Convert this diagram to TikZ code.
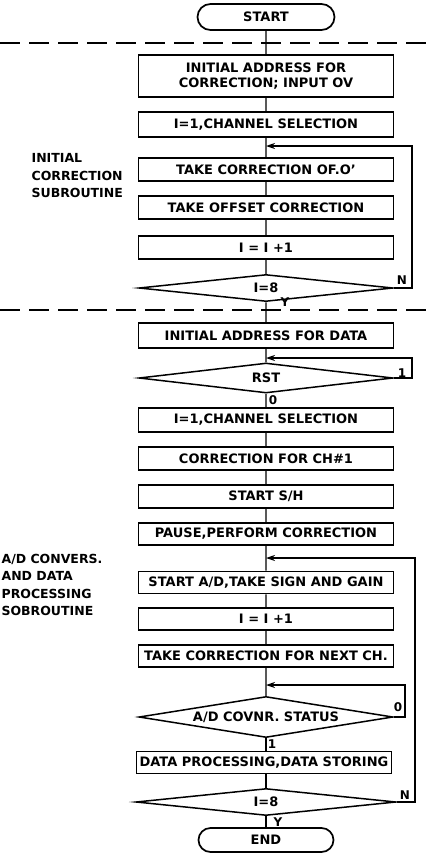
\documentclass[tikz,border=0pt]{standalone}
\usepackage{fontspec}
\setmainfont{DejaVu Sans}
\usetikzlibrary{arrows.meta, positioning, shapes.geometric, shapes.misc}
\tikzset{
  flownode/.style = {align=center, inner sep=0pt, text centered,
    font=\bfseries\fontsize{13}{15}\selectfont},
  blk/.style = {flownode, rectangle, draw=black, line width=1.7pt,
    minimum width=255pt, minimum height=23pt},
  test/.style = {flownode, diamond, draw=black, line width=1.5pt,
    minimum width=254pt, minimum height=27pt, aspect=9},
  term/.style = {flownode, rounded rectangle, draw=black, line width=1.7pt,
    minimum width=137pt, minimum height=26pt},
  side/.style = {align=left, inner sep=0pt, anchor=west,
    font=\bfseries\fontsize{12.5}{17.5}\selectfont},
  lbl/.style = {inner sep=0pt, font=\bfseries\fontsize{12}{14}\selectfont},
  sep/.style = {dash pattern=on 20pt off 9pt, line width=1.2pt}
}
\begin{document}
\begin{tikzpicture}[x=1pt, y=-1pt, >={Stealth[length=9pt,width=6pt]}, line width=1.2pt]
\useasboundingbox (0,0) rectangle (428,854);
\node [term] (start) at (266,17) {START};
\node [blk, minimum height=42pt] (b1) at (266,76) {INITIAL ADDRESS FOR\\CORRECTION; INPUT OV};
\node [blk, minimum height=25pt] (b2) at (266,124.5) {I=1,CHANNEL SELECTION};
\node [blk] (b3) at (266,169.5) {TAKE CORRECTION OF.O'};
\node [blk] (b4) at (266,207.5) {TAKE OFFSET CORRECTION};
\node [blk] (b5) at (266,247.5) {I = I +1};
\node [test] (d1) at (266,288) {I=8};
\node [blk, minimum height=25pt] (b6) at (266,335.5) {INITIAL ADDRESS FOR DATA};
\node [test, minimum height=30pt] (d2) at (266,378) {RST};
\node [blk, minimum height=24pt] (b7) at (266,420) {I=1,CHANNEL SELECTION};
\node [blk] (b8) at (266,458.5) {CORRECTION FOR CH\#1};
\node [blk] (b9) at (266,496.5) {START S/H};
\node [blk, minimum height=22pt] (b10) at (266,534) {PAUSE,PERFORM CORRECTION};
\node [blk, minimum height=22pt] (b11) at (266,582.5) {START A/D,TAKE SIGN AND GAIN};
\node [blk, minimum height=22pt] (b12) at (266,619) {I = I +1};
\node [blk, minimum height=22pt] (b13) at (266,656) {TAKE CORRECTION FOR NEXT CH.};
\node [test, minimum height=41pt] (d3) at (266,717) {A/D COVNR. STATUS};
\node [blk, minimum height=22pt] (b14) at (264,762.5) {DATA PROCESSING,DATA STORING};
\node [test, minimum height=27pt, minimum width=260pt] (d4) at (266,802) {I=8};
\node [term, minimum width=135pt, minimum height=24pt] (stop) at (266,840) {END};

\node [side] (initcorr) at (31,176) {INITIAL\\CORRECTION\\SUBROUTINE};
\node [side] (adproc) at (1,585) {A/D CONVERS.\\AND DATA\\PROCESSING\\SOBROUTINE};

\node [lbl] (n1) at (402,280) {N};
\node [lbl] (y1) at (285,302) {Y};
\node [lbl] (one1) at (402,373) {1};
\node [lbl] (zero1) at (273,400) {0};
\node [lbl] (zero2) at (398,707) {0};
\node [lbl] (one2) at (272,744) {1};
\node [lbl] (n2) at (405,795) {N};
\node [lbl] (y2) at (278,822) {Y};

\coordinate (j1) at (266,146);
\coordinate (r1) at (412,146);
\coordinate (j2) at (266,358);
\coordinate (r2) at (412,358);
\coordinate (j3) at (266,558);
\coordinate (r3) at (415,558);
\coordinate (j4) at (266,685);
\coordinate (r4) at (405,685);

\draw [sep] (0,43) -- (428,43);
\draw [sep] (0,310) -- (428,310);

\draw (start) -- (b1) -- (b2) -- (b3) -- (b4) -- (b5) -- (d1) -- (b6) -- (d2)
  -- (b7) -- (b8) -- (b9) -- (b10) -- (b11) -- (b12) -- (b13) -- (d3);
\draw (d3) -- (d3 |- b14.north);
\draw (b14.south -| d4) -- (d4) -- (stop);

\draw [->] (d1.east) -| (r1) -- (j1);
\draw [->] (d2.east) -| (r2) -- (j2);
\draw [->] (d4.east) -| (r3) -- (j3);
\draw [->] (d3.east) -| (r4) -- (j4);
\end{tikzpicture}
\end{document}
